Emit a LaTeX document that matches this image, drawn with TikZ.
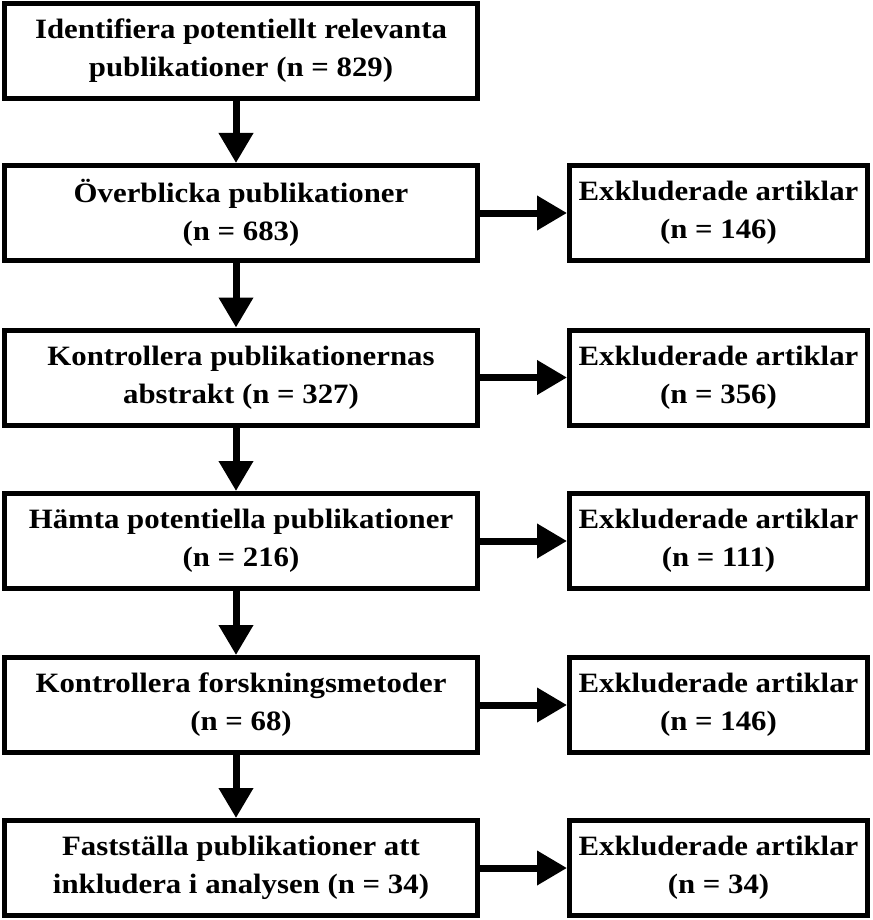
\documentclass[tikz,border=0pt]{standalone}
\usepackage{fontspec}
\setmainfont{Liberation Serif}[FakeStretch=1.1]
\usetikzlibrary{arrows.meta}
\begin{document}
\begin{tikzpicture}[x=1pt,y=-1pt,
  box/.style={draw,line width=5pt,align=center,font=\fontsize{28}{38}\selectfont\bfseries,inner sep=0pt},
  lbox/.style={box,minimum width=473pt,minimum height=95pt},
  rbox/.style={box,minimum width=298pt,minimum height=95pt},
  arr/.style={line width=7pt,-{Triangle[length=30pt,width=33pt]}}]
\useasboundingbox (0,0) rectangle (872,920);
\node[lbox] (a1) at (241,51) {Identifiera potentiellt relevanta\\publikationer (n = 829)};
\node[lbox] (a2) at (241,213) {Överblicka publikationer\\(n = 683)};
\node[lbox] (a3) at (241,377.5) {Kontrollera publikationernas\\abstrakt (n = 327)};
\node[lbox] (a4) at (241,541) {Hämta potentiella publikationer\\(n = 216)};
\node[lbox] (a5) at (241,705) {Kontrollera forskningsmetoder\\(n = 68)};
\node[lbox] (a6) at (241,868) {Fastställa publikationer att\\inkludera i analysen (n = 34)};
\node[rbox] (b2) at (718.5,213) {Exkluderade artiklar\\(n = 146)};
\node[rbox] (b3) at (718.5,377.5) {Exkluderade artiklar\\(n = 356)};
\node[rbox] (b4) at (718.5,541) {Exkluderade artiklar\\(n = 111)};
\node[rbox] (b5) at (718.5,705) {Exkluderade artiklar\\(n = 146)};
\node[rbox] (b6) at (718.5,868) {Exkluderade artiklar\\(n = 34)};
\foreach \i/\j in {1/2,2/3,3/4,4/5,5/6}{
  \draw[arr] ([xshift=-5pt]a\i.south) -- ([xshift=-5pt]a\j.north);
}
\foreach \i in {2,...,6}{
  \draw[arr] (a\i.east) -- (b\i.west);
}
\end{tikzpicture}
\end{document}
